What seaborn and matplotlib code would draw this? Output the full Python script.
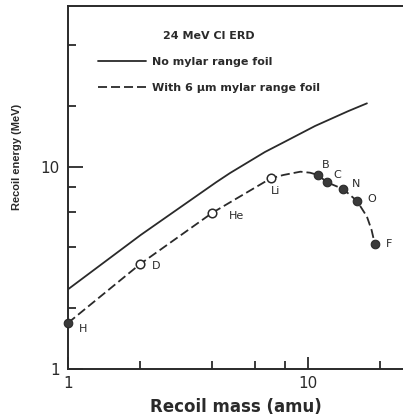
import matplotlib
matplotlib.use("Agg")
import matplotlib.pyplot as plt
import seaborn as sns
import numpy as np
import pandas as pd
from matplotlib.ticker import FixedLocator, NullFormatter, FixedFormatter

# ---------------- data ----------------
mass_solid = [1.0, 2.01, 4.14, 4.73, 6.62, 7.87, 10.7, 14.7, 17.6]
energy_solid = [2.48, 4.61, 8.4, 9.33, 11.87, 13.2, 15.96, 18.9, 20.66]

mass_foil_curve = [1.0, 2.0, 4.0, 7.0, 7.9, 9.3, 10.2, 11.0, 12.0, 14.0, 16.0, 17.6, 18.4, 19.0]
energy_foil_curve = [1.69, 3.31, 5.94, 8.79, 9.13, 9.48, 9.37, 9.13, 8.4, 7.78, 6.79, 5.68, 4.88, 4.14]

elements = ["H", "D", "He", "Li", "B", "C", "N", "O", "F"]
element_mass = [1, 2, 4, 7, 11, 12, 14, 16, 19]
element_energy = [1.69, 3.31, 5.94, 8.79, 9.13, 8.4, 7.78, 6.79, 4.14]
element_open = [False, True, True, True, False, False, False, False, False]

x_major = [1, 10]
x_minor = [2, 4, 6, 8, 20]
y_major = [1, 10]
y_minor = [2, 4, 6, 8, 20, 40]
tick_labels = ["1", "10"]

legend_title = "24 MeV Cl ERD"
label_solid = "No mylar range foil"
label_dashed = "With 6 \u03bcm mylar range foil"

# ---------------- style ----------------
sns.set_theme(style="white")
plt.rcParams["font.family"] = ["DejaVu Sans"]
ink = "#2a2a2a"

fig = plt.figure(figsize=(4.03, 4.20), dpi=100)
W, H = 403, 420
ax_left, ax_right, ax_top, ax_bottom = 68, 403, 6, 369
ax = fig.add_axes([ax_left / W, 1 - ax_bottom / H, (ax_right - ax_left) / W, (ax_bottom - ax_top) / H])

ax.set_xscale("log")
ax.set_yscale("log")

sns.lineplot(x=mass_solid, y=energy_solid, ax=ax, color=ink, lw=1.3,
             estimator=None, sort=False, label=label_solid)
sns.lineplot(x=mass_foil_curve, y=energy_foil_curve, ax=ax, color=ink, lw=1.3,
             estimator=None, sort=False, linestyle=(0, (5, 2.2)), label=label_dashed)

df = pd.DataFrame({"m": element_mass, "e": element_energy, "open": element_open, "el": elements})
op = df[df["open"]]
fl = df[~df["open"]]
sns.scatterplot(data=fl, x="m", y="e", ax=ax, s=38, color="#3a3a3a", edgecolor=ink,
                linewidth=0.8, zorder=4, clip_on=False, legend=False)
sns.scatterplot(data=op, x="m", y="e", ax=ax, s=38, facecolor="white", edgecolor=ink,
                linewidth=1.1, zorder=4, clip_on=False, legend=False)

label_offsets = {"H": (15, -6), "D": (16, -2), "He": (24, -3), "Li": (5, -13),
                 "B": (8, 10), "C": (10, 7), "N": (13, 5), "O": (15, 2), "F": (14, 0)}
for el, m, e in zip(elements, element_mass, element_energy):
    dx, dy = label_offsets[el]
    ax.annotate(el, (m, e), xytext=(dx, dy), textcoords="offset pixels",
                ha="center", va="center", fontsize=8, color=ink)

ax.set_xlim(1, 10 ** ((ax_right - ax_left) / 240))
ax.set_ylim(1, 10 ** ((ax_bottom - ax_top) / 202))

ax.xaxis.set_major_locator(FixedLocator(x_major))
ax.xaxis.set_minor_locator(FixedLocator(x_minor))
ax.yaxis.set_major_locator(FixedLocator(y_major))
ax.yaxis.set_minor_locator(FixedLocator(y_minor))
ax.xaxis.set_major_formatter(FixedFormatter(tick_labels))
ax.yaxis.set_major_formatter(FixedFormatter(tick_labels))
ax.xaxis.set_minor_formatter(NullFormatter())
ax.yaxis.set_minor_formatter(NullFormatter())

ax.tick_params(which="both", direction="in", color=ink, width=1.3, labelsize=11,
               labelcolor=ink, bottom=True, left=True, top=False, right=False)
ax.tick_params(axis="x", which="major", length=9, pad=5)
ax.tick_params(axis="y", which="major", length=11, pad=6)
ax.tick_params(which="minor", length=5.5)

for side in ["left", "bottom", "top"]:
    ax.spines[side].set_color(ink)
    ax.spines[side].set_linewidth(1.4)
ax.spines["right"].set_visible(False)

ax.set_xlabel("Recoil mass (amu)", fontsize=12, fontweight="bold", color=ink, labelpad=5)
ax.set_ylabel("Recoil energy (MeV)", fontsize=8, fontweight="bold", color=ink,
              family=["Liberation Sans", "DejaVu Sans"])
ax.yaxis.set_label_coords(-0.137, 0.584)

leg = ax.legend(loc="upper left", bbox_to_anchor=((98 - ax_left) / (ax_right - ax_left), (ax_bottom - 31) / (ax_bottom - ax_top)),
                frameon=False, borderpad=0, borderaxespad=0, handlelength=4.3, handletextpad=0.6,
                labelspacing=1.42, title=legend_title,
                prop={"weight": "bold", "size": 8},
                title_fontproperties={"weight": "bold", "size": 8})
for t in leg.get_texts():
    t.set_color(ink)
leg.get_title().set_color(ink)

fig.savefig("out.png", dpi=100)
